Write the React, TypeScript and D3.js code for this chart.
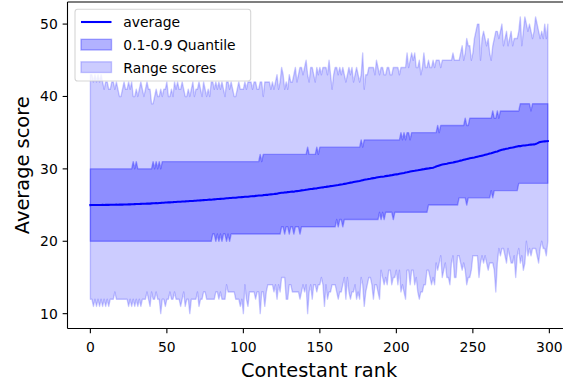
import React from "react";
import * as d3 from "d3";

// Contestant ranks 0..299 (x categories)
const ranks: number[] = d3.range(0, 300);

// Average score per contestant rank
const average: number[] = [
  25.00, 25.01, 25.00, 25.02, 25.01, 25.01, 25.02, 25.02, 25.03, 25.02,
  25.03, 25.04, 25.03, 25.04, 25.05, 25.04, 25.05, 25.06, 25.05, 25.06,
  25.07, 25.06, 25.08, 25.08, 25.09, 25.10, 25.10, 25.12, 25.11, 25.13,
  25.14, 25.15, 25.14, 25.16, 25.18, 25.17, 25.19, 25.20, 25.21, 25.20,
  25.23, 25.24, 25.25, 25.27, 25.26, 25.29, 25.30, 25.32, 25.33, 25.35,
  25.36, 25.38, 25.37, 25.40, 25.41, 25.43, 25.42, 25.45, 25.46, 25.47,
  25.49, 25.50, 25.51, 25.53, 25.52, 25.55, 25.57, 25.56, 25.59, 25.60,
  25.62, 25.63, 25.65, 25.66, 25.68, 25.70, 25.71, 25.73, 25.75, 25.74,
  25.77, 25.79, 25.80, 25.83, 25.84, 25.86, 25.88, 25.87, 25.91, 25.93,
  25.94, 25.97, 25.98, 26.00, 26.02, 26.01, 26.05, 26.07, 26.08, 26.10,
  26.11, 26.14, 26.16, 26.15, 26.19, 26.21, 26.23, 26.22, 26.27, 26.29,
  26.31, 26.33, 26.32, 26.37, 26.39, 26.42, 26.41, 26.46, 26.48, 26.50,
  26.52, 26.55, 26.57, 26.62, 26.66, 26.70, 26.71, 26.75, 26.74, 26.79,
  26.81, 26.84, 26.86, 26.85, 26.90, 26.93, 26.95, 26.99, 27.03, 27.05,
  27.08, 27.12, 27.14, 27.18, 27.21, 27.22, 27.27, 27.30, 27.31, 27.36,
  27.39, 27.42, 27.44, 27.49, 27.51, 27.55, 27.57, 27.62, 27.64, 27.68,
  27.71, 27.74, 27.77, 27.82, 27.85, 27.88, 27.93, 27.96, 28.00, 28.05,
  28.10, 28.13, 28.18, 28.22, 28.26, 28.30, 28.33, 28.38, 28.44, 28.50,
  28.54, 28.57, 28.61, 28.64, 28.69, 28.72, 28.75, 28.80, 28.84, 28.87,
  28.90, 28.92, 28.95, 29.00, 29.03, 29.06, 29.10, 29.13, 29.17, 29.21,
  29.24, 29.27, 29.32, 29.36, 29.40, 29.44, 29.49, 29.53, 29.58, 29.63,
  29.67, 29.71, 29.74, 29.78, 29.81, 29.85, 29.89, 29.93, 29.96, 30.00,
  30.03, 30.06, 30.10, 30.12, 30.16, 30.24, 30.33, 30.41, 30.48, 30.55,
  30.60, 30.64, 30.68, 30.72, 30.77, 30.81, 30.85, 30.88, 30.93, 30.98,
  31.03, 31.08, 31.14, 31.19, 31.25, 31.30, 31.35, 31.41, 31.46, 31.50,
  31.54, 31.58, 31.63, 31.68, 31.73, 31.79, 31.83, 31.88, 31.94, 32.00,
  32.05, 32.11, 32.16, 32.24, 32.30, 32.36, 32.41, 32.49, 32.56, 32.63,
  32.69, 32.73, 32.78, 32.82, 32.87, 32.91, 32.95, 33.00, 33.05, 33.10,
  33.15, 33.14, 33.20, 33.22, 33.24, 33.27, 33.29, 33.32, 33.35, 33.37,
  33.38, 33.43, 33.52, 33.63, 33.70, 33.75, 33.78, 33.80, 33.82, 33.84,
];

// 0.1 quantile per rank
const q10: number[] = [
  20, 20, 20, 20, 20, 20, 20, 20, 20, 20, 20, 20, 20, 20, 20, 20, 20, 20, 20, 20,
  20, 20, 20, 20, 20, 20, 20, 20, 20, 20, 20, 20, 20, 20, 20, 20, 20, 20, 20, 20,
  20, 20, 20, 20, 20, 20, 20, 20, 20, 20, 20, 20, 20, 20, 20, 20, 20, 20, 20, 20,
  20, 20, 20, 20, 20, 20, 20, 20, 20, 20, 20, 20, 20, 20, 20, 20, 20, 20, 20, 20,
  21, 21, 20, 21, 20, 21, 20, 21, 21, 20, 21, 20, 21, 21, 21, 21, 21, 21, 21, 21,
  21, 21, 21, 21, 21, 21, 21, 21, 21, 21, 21, 21, 21, 21, 21, 21, 21, 21, 21, 21,
  21, 21, 21, 21, 21, 22, 22, 21, 22, 22, 21, 22, 22, 21, 22, 22, 22, 21, 22, 22,
  22, 22, 22, 22, 22, 22, 22, 22, 22, 22, 22, 22, 22, 22, 22, 22, 22, 22, 22, 22,
  22, 23, 22, 23, 23, 22, 23, 23, 23, 23, 23, 23, 23, 23, 23, 23, 23, 23, 23, 23,
  23, 23, 23, 23, 23, 23, 23, 23, 23, 24, 23, 24, 23, 24, 24, 24, 24, 24, 23, 24,
  24, 24, 24, 24, 24, 24, 24, 24, 24, 24, 24, 24, 24, 24, 24, 24, 24, 24, 24, 24,
  24, 25, 25, 25, 25, 25, 25, 25, 25, 25, 25, 25, 25, 25, 25, 25, 25, 25, 25, 25,
  25, 26, 26, 26, 26, 26, 25, 26, 26, 26, 26, 26, 26, 26, 26, 26, 26, 26, 26, 26,
  26, 26, 27, 26, 27, 27, 27, 27, 27, 27, 27, 27, 27, 27, 27, 27, 27, 27, 27, 27,
  28, 28, 28, 28, 28, 28, 28, 28, 28, 28, 28, 28, 28, 28, 28, 28, 28, 28, 28, 28,
];

// 0.9 quantile per rank
const q90: number[] = [
  30, 30, 30, 30, 30, 30, 30, 30, 30, 30, 30, 30, 30, 30, 30, 30, 30, 30, 30, 30,
  30, 30, 30, 30, 30, 30, 30, 30, 31, 30, 31, 30, 30, 30, 30, 30, 30, 30, 30, 30,
  30, 31, 30, 31, 30, 31, 30, 31, 31, 31, 31, 31, 31, 31, 31, 31, 31, 31, 31, 31,
  31, 31, 31, 31, 31, 31, 31, 31, 31, 31, 31, 31, 31, 31, 31, 31, 31, 31, 31, 31,
  31, 31, 31, 31, 31, 31, 31, 31, 31, 31, 31, 31, 31, 31, 31, 31, 31, 31, 31, 31,
  31, 31, 31, 31, 31, 31, 31, 31, 31, 31, 31, 32, 31, 32, 32, 32, 32, 32, 32, 32,
  32, 32, 32, 32, 32, 32, 32, 32, 32, 32, 32, 32, 32, 32, 32, 32, 32, 32, 32, 32,
  32, 32, 33, 32, 32, 32, 32, 32, 33, 32, 33, 33, 33, 33, 33, 33, 33, 33, 33, 33,
  33, 33, 33, 33, 33, 33, 33, 33, 33, 33, 33, 33, 33, 33, 33, 33, 33, 34, 33, 34,
  34, 34, 34, 34, 34, 34, 34, 34, 34, 34, 34, 34, 34, 34, 34, 34, 34, 34, 34, 34,
  34, 34, 34, 35, 34, 35, 34, 35, 35, 34, 35, 35, 35, 35, 35, 35, 35, 35, 35, 35,
  35, 35, 35, 35, 35, 35, 35, 36, 35, 36, 36, 36, 36, 36, 36, 36, 36, 36, 36, 36,
  36, 36, 36, 36, 36, 37, 36, 36, 37, 37, 37, 37, 37, 37, 37, 37, 37, 37, 37, 37,
  37, 37, 37, 38, 37, 37, 38, 37, 38, 38, 38, 38, 38, 38, 38, 38, 38, 38, 38, 38,
  38, 39, 39, 39, 39, 39, 39, 39, 38, 39, 39, 39, 39, 39, 39, 39, 39, 39, 39, 39,
];

// Lowest score per rank
const minScore: number[] = [
  12, 12, 11, 12, 11, 12, 11, 12, 11, 12,
  11, 12, 11, 12, 12, 12, 13, 12, 12, 12,
  12, 12, 12, 12, 12, 11, 12, 11, 12, 11,
  12, 11, 12, 11, 12, 12, 12, 13, 12, 11,
  13, 12, 12, 13, 12, 12, 10, 12, 12, 11,
  12, 12, 13, 12, 12, 13, 12, 12, 12, 11,
  12, 13, 11, 12, 12, 10, 12, 12, 12, 12,
  13, 11, 12, 12, 13, 13, 12, 12, 12, 12,
  12, 12, 13, 13, 12, 13, 12, 12, 12, 14,
  13, 13, 13, 13, 13, 12, 12, 12, 11, 12,
  10, 14, 12, 11, 13, 13, 13, 13, 12, 13,
  13, 10, 13, 13, 11, 13, 14, 14, 14, 14,
  13, 14, 12, 14, 13, 15, 15, 15, 12, 12,
  14, 14, 13, 13, 13, 13, 13, 12, 13, 14,
  13, 14, 10, 13, 14, 12, 14, 14, 13, 14,
  14, 15, 14, 11, 14, 12, 13, 13, 14, 14,
  14, 13, 12, 13, 13, 14, 15, 12, 15, 13,
  12, 13, 13, 14, 12, 13, 12, 15, 14, 11,
  13, 14, 15, 15, 14, 12, 14, 14, 13, 12,
  16, 15, 14, 15, 14, 16, 16, 14, 15, 15,
  16, 14, 16, 13, 14, 13, 12, 16, 16, 14,
  16, 16, 14, 15, 13, 12, 13, 13, 14, 14,
  16, 16, 15, 14, 15, 14, 17, 16, 17, 18,
  15, 16, 17, 15, 15, 14, 17, 18, 15, 15,
  18, 18, 17, 16, 17, 16, 14, 15, 15, 16,
  18, 18, 18, 18, 15, 17, 18, 17, 18, 17,
  16, 17, 17, 17, 16, 13, 17, 19, 18, 19,
  19, 18, 17, 19, 18, 17, 17, 18, 15, 18,
  19, 17, 18, 16, 17, 20, 18, 19, 18, 19,
  19, 19, 18, 17, 19, 20, 19, 19, 18, 20,
];

// Highest score per rank
const maxScore: number[] = [
  43, 43, 42, 43, 42, 43, 42, 43, 42, 41,
  42, 42, 41, 41, 42, 42, 41, 42, 41, 40,
  40, 41, 42, 41, 41, 42, 41, 42, 40, 40,
  41, 40, 41, 42, 41, 40, 41, 42, 41, 41,
  39, 39, 40, 41, 40, 40, 41, 40, 41, 41,
  42, 40, 40, 41, 40, 42, 41, 42, 41, 41,
  42, 41, 40, 40, 41, 40, 41, 42, 40, 41,
  41, 42, 41, 40, 42, 41, 40, 41, 40, 42,
  42, 41, 42, 41, 42, 41, 42, 41, 40, 42,
  42, 41, 42, 41, 40, 40, 41, 42, 41, 41,
  41, 42, 41, 42, 42, 42, 41, 42, 42, 41,
  41, 42, 42, 40, 42, 42, 42, 42, 41, 42,
  41, 42, 43, 41, 42, 44, 43, 41, 42, 41,
  43, 42, 42, 43, 44, 42, 43, 44, 44, 43,
  44, 45, 43, 42, 44, 44, 43, 42, 44, 43,
  44, 43, 44, 44, 44, 43, 45, 43, 41, 43,
  44, 44, 43, 44, 43, 44, 43, 42, 43, 44,
  43, 44, 42, 43, 44, 43, 42, 43, 46, 41,
  43, 43, 44, 44, 44, 44, 43, 45, 44, 43,
  44, 44, 43, 43, 44, 44, 43, 43, 44, 44,
  44, 44, 43, 44, 44, 44, 44, 46, 44, 45,
  46, 45, 46, 44, 44, 45, 43, 44, 46, 44,
  44, 45, 44, 44, 45, 44, 45, 45, 45, 44,
  45, 45, 45, 45, 45, 45, 45, 46, 45, 45,
  45, 45, 46, 47, 45, 46, 48, 47, 47, 45,
  46, 48, 49, 50, 50, 45, 48, 49, 48, 47,
  48, 46, 45, 47, 48, 49, 49, 48, 49, 50,
  47, 48, 49, 47, 48, 49, 47, 48, 48, 48,
  49, 51, 47, 49, 51, 50, 49, 50, 49, 48,
  49, 51, 50, 49, 48, 49, 48, 50, 48, 50,
];

const xTicks = [0, 50, 100, 150, 200, 250, 300];
const yTicks = [10, 20, 30, 40, 50];

const legendItems = ["average", "0.1-0.9 Quantile", "Range scores"];

const W = 563;
const H = 385;
const plot = { left: 67.5, right: 570.7, top: 2, bottom: 328.5 };
const FONT = "DejaVu Sans, Liberation Sans, sans-serif";

export default function App() {
  const x = d3.scaleLinear().domain([-14.95, 313.95]).range([plot.left, plot.right]);
  const y = d3.scaleLinear().domain([7.95, 53.05]).range([plot.bottom, plot.top]);

  const idx = ranks.map((_, i) => i);

  const rangeArea = d3
    .area<number>()
    .x((i) => x(ranks[i]))
    .y0((i) => y(minScore[i]))
    .y1((i) => y(maxScore[i]));

  const quantArea = d3
    .area<number>()
    .x((i) => x(ranks[i]))
    .y0((i) => y(q10[i]))
    .y1((i) => y(q90[i]));

  const avgLine = d3
    .line<number>()
    .x((i) => x(ranks[i]))
    .y((i) => y(average[i]));

  const tickLen = 4.86;

  return (
    <svg
      width={W}
      height={H}
      style={{ position: "fixed", left: 0, top: 0, display: "block", background: "#fff" }}
      fontFamily={FONT}
    >
      <defs>
        <clipPath id="plot-clip">
          <rect x={plot.left} y={plot.top} width={plot.right - plot.left} height={plot.bottom - plot.top} />
        </clipPath>
      </defs>

      <g clipPath="url(#plot-clip)">
        <path
          d={rangeArea(idx) ?? ""}
          fill="rgba(0,0,255,0.2)"
          stroke="rgba(0,0,255,0.2)"
          strokeWidth={1.39}
          strokeLinejoin="round"
        />
        <path
          d={quantArea(idx) ?? ""}
          fill="rgba(0,0,255,0.3)"
          stroke="rgba(0,0,255,0.3)"
          strokeWidth={1.39}
          strokeLinejoin="round"
        />
        <path
          d={avgLine(idx) ?? ""}
          fill="none"
          stroke="#0000ff"
          strokeWidth={2.08}
          strokeLinejoin="round"
          strokeLinecap="square"
        />
      </g>

      {/* spines */}
      <g stroke="#000" strokeWidth={1.1} fill="none">
        <line x1={plot.left} x2={plot.left} y1={plot.top} y2={plot.bottom} />
        <line x1={plot.left} x2={plot.right} y1={plot.bottom} y2={plot.bottom} />
        <line x1={plot.left} x2={plot.right} y1={plot.top} y2={plot.top} />
        <line x1={plot.right} x2={plot.right} y1={plot.top} y2={plot.bottom} />
      </g>

      {/* x axis */}
      {xTicks.map((t) => (
        <g key={`x${t}`}>
          <line x1={x(t)} x2={x(t)} y1={plot.bottom} y2={plot.bottom + tickLen} stroke="#000" strokeWidth={1.1} />
          <text x={x(t)} y={352} textAnchor="middle" fontSize={13.9} fill="#000">
            {t}
          </text>
        </g>
      ))}

      {/* y axis */}
      {yTicks.map((t) => (
        <g key={`y${t}`}>
          <line x1={plot.left - tickLen} x2={plot.left} y1={y(t)} y2={y(t)} stroke="#000" strokeWidth={1.1} />
          <text x={plot.left - 2 * tickLen} y={y(t) + 5} textAnchor="end" fontSize={13.9} fill="#000">
            {t}
          </text>
        </g>
      ))}

      <text x={(plot.left + plot.right) / 2} y={376.5} textAnchor="middle" fontSize={19.4} fill="#000">
        Contestant rank
      </text>
      <text
        transform={`translate(28.5, ${(plot.top + plot.bottom) / 2}) rotate(-90)`}
        textAnchor="middle"
        fontSize={19.4}
        fill="#000"
      >
        Average score
      </text>

      {/* legend */}
      <g>
        <rect
          x={75}
          y={9.3}
          width={175.7}
          height={71.7}
          rx={2.8}
          fill="rgba(255,255,255,0.8)"
          stroke="rgba(204,204,204,0.8)"
          strokeWidth={1.1}
        />
        <line x1={81} x2={111.5} y1={22} y2={22} stroke="#0000ff" strokeWidth={2.08} />
        <rect
          x={81}
          y={39.3}
          width={30.5}
          height={10.7}
          fill="rgba(0,0,255,0.3)"
          stroke="rgba(0,0,255,0.3)"
          strokeWidth={1.39}
        />
        <rect
          x={81}
          y={61.8}
          width={30.5}
          height={10.7}
          fill="rgba(0,0,255,0.2)"
          stroke="rgba(0,0,255,0.2)"
          strokeWidth={1.39}
        />
        {legendItems.map((label, i) => (
          <text key={label} x={123.3} y={27.3 + i * 22.6} fontSize={13.9} fill="#000">
            {label}
          </text>
        ))}
      </g>
    </svg>
  );
}
